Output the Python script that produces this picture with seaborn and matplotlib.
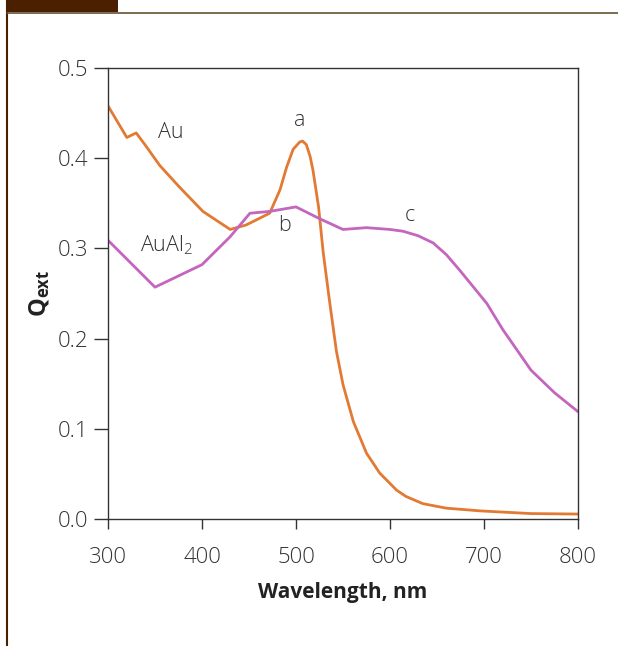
import matplotlib
matplotlib.use("Agg")
import matplotlib.pyplot as plt
from matplotlib.patches import Rectangle
from matplotlib.lines import Line2D
import seaborn as sns
import pandas as pd

au_wl = [300, 320, 330, 340, 355, 376, 401, 430, 447, 472, 483, 490, 497, 504, 507, 511, 515, 518, 524, 529, 536, 543, 550, 561, 575, 589, 607, 617, 635, 660, 696, 750, 800]
au_q = [0.458, 0.423, 0.428, 0.414, 0.392, 0.368, 0.341, 0.321, 0.326, 0.339, 0.365, 0.390, 0.410, 0.418, 0.419, 0.415, 0.402, 0.387, 0.346, 0.295, 0.239, 0.186, 0.149, 0.108, 0.073, 0.051, 0.032, 0.025, 0.017, 0.012, 0.009, 0.006, 0.0055]
al_wl = [300, 350, 400, 430, 451, 472, 500, 525, 550, 575, 600, 614, 630, 646, 660, 674, 703, 720, 750, 775, 800]
al_q = [0.309, 0.257, 0.282, 0.313, 0.339, 0.341, 0.346, 0.333, 0.321, 0.323, 0.321, 0.319, 0.314, 0.306, 0.293, 0.276, 0.239, 0.210, 0.165, 0.140, 0.119]
x_ticks = [300, 400, 500, 600, 700, 800]
y_ticks = [0.0, 0.1, 0.2, 0.3, 0.4, 0.5]
annotations = [("a", 504, 0.442), ("Au", 367, 0.428), ("AuAl$_2$", 362, 0.304), ("b", 488, 0.325), ("c", 621, 0.337)]

sns.set_style("white")
plt.rcParams["font.family"] = ["Open Sans", "DejaVu Sans"]
plt.rcParams["mathtext.fontset"] = "custom"
plt.rcParams["mathtext.rm"] = "Open Sans:light"
plt.rcParams["mathtext.it"] = "Open Sans:light"
plt.rcParams["mathtext.bf"] = "Open Sans:bold"
plt.rcParams["mathtext.default"] = "rm"

df = pd.concat([
    pd.DataFrame({"wl": au_wl, "q": au_q, "s": "Au"}),
    pd.DataFrame({"wl": al_wl, "q": al_q, "s": "AuAl2"}),
])

fig = plt.figure(figsize=(6.18, 6.46), dpi=100)
W, H = 618, 646
ax = fig.add_axes([108 / W, 1 - 519 / H, 470 / W, 451 / H])
sns.lineplot(data=df, x="wl", y="q", hue="s", palette={"Au": "#E27A33", "AuAl2": "#C465BE"},
             linewidth=2.0, legend=False, ax=ax, sort=False, estimator=None)

ax.set_xlim(300, 800)
ax.set_ylim(0, 0.5)
ax.set_xticks(x_ticks)
ax.set_yticks(y_ticks)
ax.set_xticklabels([str(t) for t in x_ticks])
ax.set_yticklabels([f"{t:.1f}" for t in y_ticks])
ax.tick_params(axis="both", direction="out", width=1, color="#333333",
               labelsize=16, labelcolor="#333333", bottom=True, left=True)
ax.tick_params(axis="x", length=7, pad=13)
ax.tick_params(axis="y", length=10, pad=4)
for lab in ax.get_xticklabels() + ax.get_yticklabels():
    lab.set_fontweight("light")
for sp in ax.spines.values():
    sp.set_color("#333333")
    sp.set_linewidth(1.0)
ax.set_xlabel("Wavelength, nm", fontsize=15, fontweight="bold", color="#222222", labelpad=10)
ax.set_ylabel("Q$_{\\mathbf{ext}}$", fontsize=17, fontweight="bold", color="#222222", labelpad=4)

for txt, x, y in annotations:
    ax.text(x, y, txt, fontsize=15.5, color="#333333", ha="center", va="center", fontweight="light")

brown = "#4A2000"
fig.patches.append(Rectangle((6 / W, 1 - 12 / H), 112 / W, 12 / H, transform=fig.transFigure,
                             facecolor=brown, edgecolor="none"))
fig.lines.append(Line2D([7 / W, 7 / W], [0, 1], transform=fig.transFigure, color=brown, linewidth=1.5))
fig.lines.append(Line2D([7 / W, 1], [1 - 12.5 / H, 1 - 12.5 / H], transform=fig.transFigure,
                        color="#6B5030", linewidth=1.2))

fig.savefig("out.png", dpi=100)
